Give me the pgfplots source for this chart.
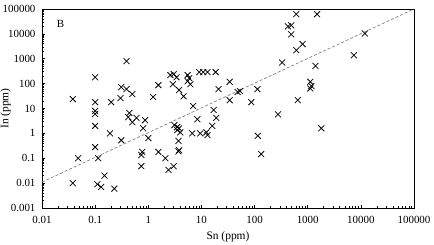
\documentclass[border=0pt]{standalone}
\usepackage{fontspec}
\setmainfont{Liberation Serif}
\usepackage{pgfplots}
\pgfplotsset{compat=1.18}
\usetikzlibrary{calc}
\begin{document}
\begin{tikzpicture}[x=1bp,y=1bp]
\begin{axis}[
  scale only axis,
  width=372bp, height=199bp,
  xmode=log, ymode=log,
  xmin=0.01, xmax=100000, ymin=0.001, ymax=100000,
  axis line style={black, line width=0.9bp},
  xtick={0.01,0.1,1,10,100,1000,10000,100000},
  xticklabels={0.01,0.1,1,10,100,1000,10000,100000},
  ytick={0.001,0.01,0.1,1,10,100,1000,10000,100000},
  yticklabels={0.001,0.01,0.1,1,10,100,1000,10000,100000},
  minor xtick={0.02,0.03,0.04,0.05,0.06,0.07,0.08,0.09,0.2,0.3,0.4,0.5,0.6,0.7,0.8,0.9,2,3,4,5,6,7,8,9,20,30,40,50,60,70,80,90,200,300,400,500,600,700,800,900,2000,3000,4000,5000,6000,7000,8000,9000,20000,30000,40000,50000,60000,70000,80000,90000},
  minor ytick={0.002,0.003,0.004,0.005,0.006,0.007,0.008,0.009,0.02,0.03,0.04,0.05,0.06,0.07,0.08,0.09,0.2,0.3,0.4,0.5,0.6,0.7,0.8,0.9,2,3,4,5,6,7,8,9,20,30,40,50,60,70,80,90,200,300,400,500,600,700,800,900,2000,3000,4000,5000,6000,7000,8000,9000,20000,30000,40000,50000,60000,70000,80000,90000},
  tick align=inside,
  xtick pos=bottom, ytick pos=left,
  major tick length=3bp, minor tick length=2bp,
  tick style={black, line width=0.6bp},
  tick label style={font=\fontsize{11}{12}\selectfont},
  xticklabel style={yshift=-5bp},
  yticklabel style={xshift=-3bp},
  xlabel={Sn (ppm)}, ylabel={In (ppm)},
  label style={font=\fontsize{11.5}{13}\selectfont},
  xlabel style={at={(axis description cs:0.5,-0.146)}, anchor=center},
  ylabel style={at={(axis description cs:-0.098,0.5)}, anchor=center},
  clip=true,
]
\addplot[gray, dashed, line width=0.7bp, dash pattern=on 3bp off 2bp] coordinates {(0.01,0.011) (100000,100000)};
\addplot[only marks, mark=x, mark size=4.2bp, mark options={line width=0.75bp, black}] coordinates {
(0.038,24) (0.1,180) (0.1,18) (0.1,8) (0.1,6) (0.1,2.0) (0.1,0.28)
(0.2,18) (0.3,26) (0.31,72) (0.39,800) (0.39,60) (0.5,38)
(0.44,6.6) (0.42,4.5) (0.6,4.2) (0.5,2.8) (0.87,3.4) (0.8,1.6)
(1.23,29) (1.55,87) (0.19,1.0) (0.31,0.53) (1.0,0.65)
(0.048,0.1) (0.114,0.1) (0.74,0.135) (0.77,0.18) (0.74,0.048)
(1.55,0.18) (2.1,0.1) (2.4,0.034) (3.0,0.048)
(0.038,0.01) (0.15,0.02) (0.11,0.009) (0.13,0.007) (0.23,0.006)
(2.6,220) (3.0,240) (3.4,180) (2.9,95) (3.8,55) (4.6,31)
(5.5,220) (5.9,165) (5.5,125) (6.2,95)
(9.1,290) (10.8,290) (13,290) (18.5,290)
(7,12.6) (8.4,3.7) (17,8.7) (19,4.2) (21,60) (34,118) (34,21.6)
(48,46) (53,50) (87,18) (113,60)
(3.1,2.15) (3.5,1.8) (3.8,1.6) (3.5,1.35) (4.0,1.1)
(3.7,0.5) (3.7,0.19) (3.8,0.21)
(6.7,1.0) (9.5,1.0) (12.4,1.1) (13,0.85) (16,2.0)
(115,0.8) (133,0.147) (276,5.8) (330,710)
(425,20000) (490,22000) (490,9500) (610,2200) (800,3900)
(610,62000) (1500,62000) (1400,520) (1120,118) (1170,80) (1120,64)
(650,21.6) (1800,1.6) (7400,1380) (11900,10400)
};
\node[font=\fontsize{11}{13}\selectfont] at (rel axis cs:0.05,0.925) {B};
\end{axis}
\pgfresetboundingbox
\path ($(current axis.south west)+(-42bp,-37bp)$) rectangle ($(current axis.north east)+(20bp,9bp)$);
\end{tikzpicture}
\end{document}
